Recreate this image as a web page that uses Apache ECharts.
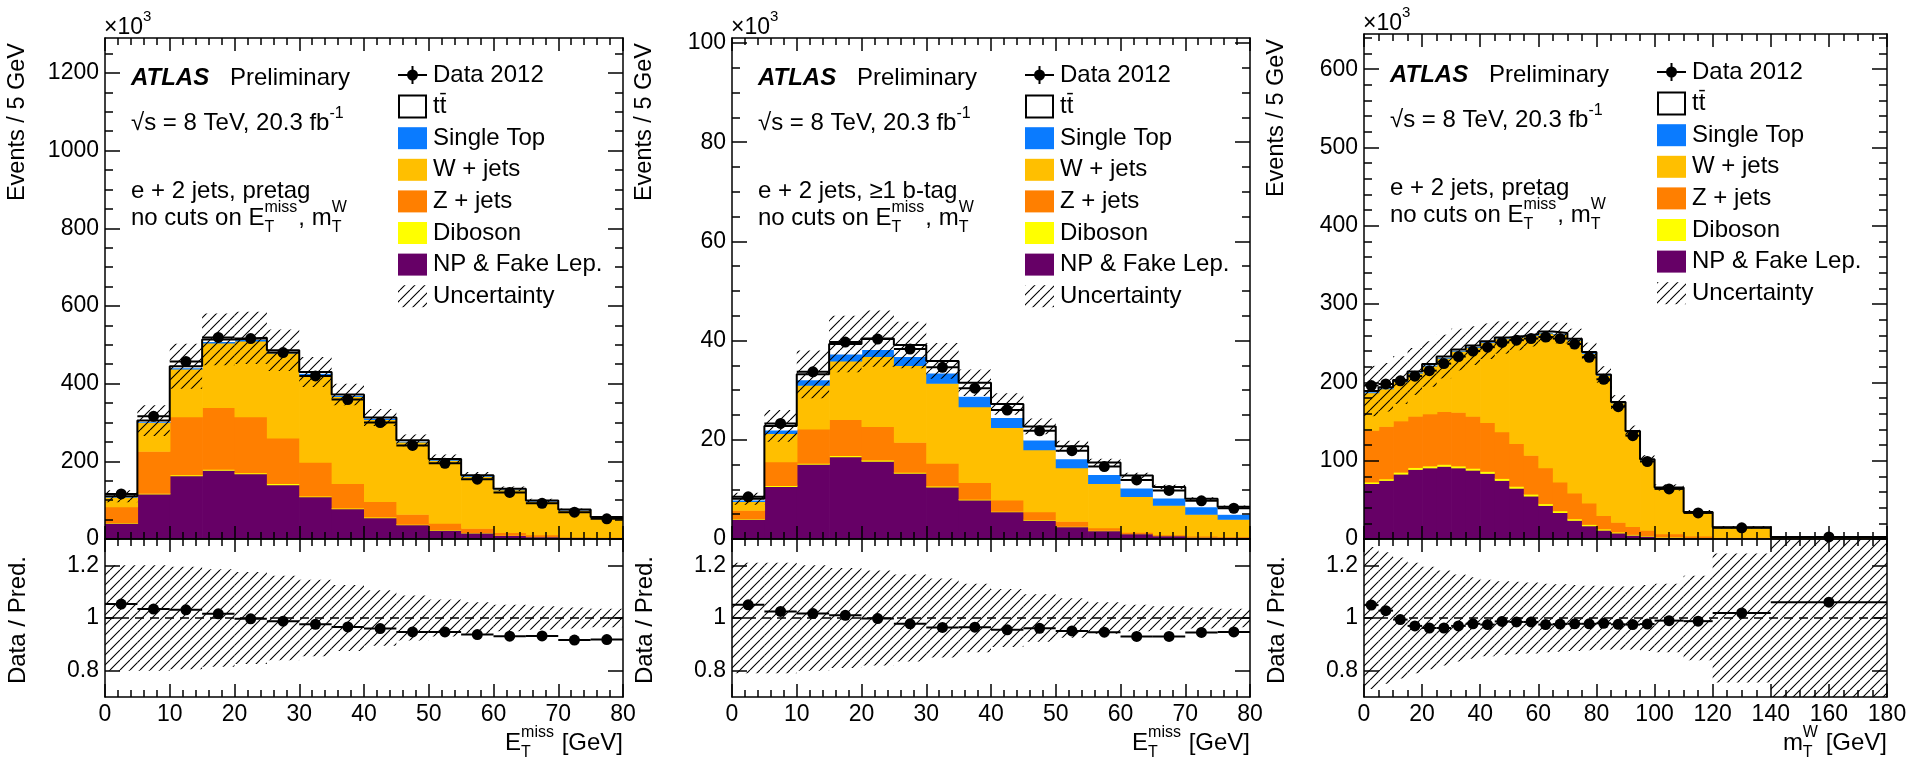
<!DOCTYPE html>
<html>
<head>
<meta charset="utf-8">
<script src="https://cdn.jsdelivr.net/npm/echarts@6.0.0/dist/echarts.min.js"></script>
<style>
html,body{margin:0;padding:0;background:#fff;}
#chart{width:1915px;height:764px;}
</style>
</head>
<body>
<div id="chart"></div>
<script>
// ================= DATA =================
// bin edges (GeV)
const etEdges = [0,5,10,15,20,25,30,35,40,45,50,55,60,65,70,75,80];
const mtEdges = [0,5,10,15,20,25,30,35,40,45,50,55,60,65,70,75,80,85,90,95,100,110,120,140,180];

// tick labels
const p1YTicks = [0,200,400,600,800,1000,1200];
const p2YTicks = [0,20,40,60,80,100];
const p3YTicks = [0,100,200,300,400,500,600];
const etXTicks = [0,10,20,30,40,50,60,70,80];
const mtXTicks = [0,20,40,60,80,100,120,140,160,180];
const ratioYTicks = [0.8,1,1.2];

// Panel 1: e + 2 jets, pretag, ETmiss (x10^3 events)
const p1NP   = [41,116,163,177,168,140,109,78,55,37,23,16,9,6,5,3];
const p1Dib  = [1,2,3,3,3,3,2,2,2,1.5,1,1,0.8,0.5,0.4,0.3];
const p1Z    = [41,108,149,159,144,117,87,63,40,25.5,17,11,7.2,4.5,1.6,1.7];
const p1W    = [25,74,123,166,195,219,226,224,211,186,162,133,110,86,67,50];
const p1ST   = [1,2,3,4,4,4,3,3,3,2,2,2,1.5,1,1,1];
const p1TT   = [1,3,4,5,4,3,3,2,2,2,1,1,1,1,0.8,0.6];
const p1Data = [116,316,457,519,516,480,420,359,300,241,195,154,120,92,69,52];
const p1UncMain  = [0.14,0.13,0.13,0.13,0.13,0.11,0.09,0.075,0.07,0.06,0.055,0.05,0.045,0.045,0.04,0.04];
const p1Ratio    = [1.053,1.034,1.031,1.016,0.997,0.988,0.976,0.966,0.960,0.947,0.947,0.937,0.931,0.932,0.916,0.918];
const p1UncRatio = [0.20,0.20,0.195,0.185,0.175,0.16,0.145,0.125,0.105,0.085,0.07,0.06,0.05,0.045,0.04,0.035];

// Panel 2: e + 2 jets, >=1 b-tag, ETmiss
const p2NP   = [4.0,10.6,15.1,16.6,15.7,13.3,10.5,7.9,5.5,3.8,2.5,1.7,1.1,0.7,0.4,0.35];
const p2Dib  = [0.1,0.2,0.2,0.25,0.25,0.2,0.2,0.15,0.12,0.1,0.08,0.06,0.05,0.04,0.03,0.02];
const p2Z    = [1.7,4.8,6.9,7.25,6.75,6.0,4.6,3.35,2.28,1.6,1.02,0.54,0.25,0.16,0.17,0.13];
const p2W    = [1.8,5.7,8.8,11.8,14.1,15.5,16.1,15.3,14.6,12.5,10.8,8.9,7.2,5.9,4.4,3.5];
const p2ST   = [0.3,0.7,1.1,1.4,1.4,1.8,2.1,2.1,2.0,2.0,1.8,1.8,1.7,1.5,1.5,1.0];
const p2TT   = [0.2,0.8,1.1,2.0,2.2,2.3,2.4,2.7,2.7,2.7,2.5,2.4,2.5,2.2,1.6,1.5];
const p2Data = [8.5,23.3,33.7,39.7,40.3,38.3,34.6,30.4,26.0,21.8,17.8,14.6,11.9,9.8,7.7,6.2];
const p2UncMain  = [0.15,0.14,0.145,0.145,0.14,0.12,0.10,0.085,0.08,0.07,0.06,0.05,0.045,0.04,0.04,0.04];
const p2Ratio    = [1.05,1.025,1.017,1.01,0.998,0.978,0.964,0.965,0.955,0.961,0.951,0.946,0.93,0.93,0.945,0.947];
const p2UncRatio = [0.21,0.21,0.20,0.19,0.18,0.165,0.15,0.13,0.11,0.09,0.075,0.06,0.05,0.045,0.04,0.035];

// Panel 3: e + 2 jets, pretag, mT(W)
const p3NP   = [71,75,83,89,91,93,91,88,84,75,65,55,43,34,24,17,11.4,7.8,5,3.7,2.3,1.4,0.9,0.3];
const p3Dib  = [2,2,2.5,2.5,2.5,2.5,2.5,2.5,2.5,2.5,2.5,2.5,2.3,2.2,2,1.8,1.6,1.3,1,0.8,0.5,0.3,0.15,0.05];
const p3Z    = [66,67,65.5,65.5,66.5,67.5,68.5,66.5,62.5,59.5,54.5,49.5,45.7,36.8,33,27.2,17,12.4,10,6.9,4,2.3,1.25,0.25];
const p3W    = [48,48,50,55,61,68,78,88,102,119,136,153,172,188.6,195,191,179,152.5,121,89.6,58.2,30,12.3,1.7];
const p3ST   = [1.2,1.2,1.2,1.2,1.3,1.2,1.2,1.2,1.0,0.9,0.9,0.9,1.0,0.8,1.0,1.0,0.8,0.6,0.6,0.5,0.4,0.3,0.2,0.1];
const p3TT   = [0.8,0.6,0.8,0.8,1.2,0.8,0.8,0.8,0.6,0.4,0.4,0.7,0.9,0.7,0.8,0.8,0.4,0.4,0.4,0.5,0.4,0.3,0.2,0.1];
const p3Data = [196,198,202,208,215,224,233,240,245,251,254,256,258,256,249,232,204,169,132,99,64,33.3,14.3,2.7];
const p3UncMain  = [0.17,0.16,0.15,0.14,0.13,0.12,0.11,0.10,0.09,0.08,0.07,0.06,0.05,0.05,0.05,0.05,0.05,0.05,0.05,0.05,0.06,0.07,0.1,0.5];
const p3Ratio    = [1.049,1.028,0.994,0.97,0.962,0.962,0.97,0.978,0.975,0.987,0.985,0.985,0.975,0.977,0.978,0.978,0.98,0.976,0.975,0.977,0.99,0.988,1.019,1.06];
const p3UncRatio = [0.27,0.25,0.23,0.21,0.195,0.18,0.165,0.155,0.145,0.14,0.138,0.135,0.13,0.128,0.125,0.122,0.12,0.12,0.12,0.125,0.13,0.16,0.245,0.6];

const legendNames = ['Single Top','W + jets','Z + jets','Diboson','NP & Fake Lep.'];

// ================= STYLE / LAYOUT =================
const FONT = '"Liberation Sans", Arial, Helvetica, sans-serif';
const COLORS = {np:'#660066', dib:'#ffff00', z:'#ff7f00', w:'#ffbf00', st:'#0a7bff', tt:'#ffffff'};
const compColors = [COLORS.np, COLORS.dib, COLORS.z, COLORS.w, COLORS.st, COLORS.tt];
const legendColors = [COLORS.st, COLORS.w, COLORS.z, COLORS.dib, COLORS.np];
const MAIN_B = 539, RAT_B = 697;

const panels = [
  {L:105, R:623, T:38, ty:38, edges:etEdges, xMax:80, xTicks:etXTicks, xMinorStep:2, yMax:1290, yTicks:p1YTicks, yMinorStep:50,
   comps:[p1NP,p1Dib,p1Z,p1W,p1ST,p1TT], data:p1Data, uncMain:p1UncMain, ratio:p1Ratio, unc:p1UncRatio,
   sel:'e + 2 jets, pretag', xTitle:['E',{sup:'miss',sub:'T'},' [GeV]']},
  {L:732, R:1250, T:38, ty:38, edges:etEdges, xMax:80, xTicks:etXTicks, xMinorStep:2, yMax:101, yTicks:p2YTicks, yMinorStep:5,
   comps:[p2NP,p2Dib,p2Z,p2W,p2ST,p2TT], data:p2Data, uncMain:p2UncMain, ratio:p2Ratio, unc:p2UncRatio,
   sel:'e + 2 jets, \u22651 b-tag', xTitle:['E',{sup:'miss',sub:'T'},' [GeV]']},
  {L:1364, R:1887, T:34, ty:35, edges:mtEdges, xMax:180, xTicks:mtXTicks, xMinorStep:5, yMax:645, yTicks:p3YTicks, yMinorStep:20,
   comps:[p3NP,p3Dib,p3Z,p3W,p3ST,p3TT], data:p3Data, uncMain:p3UncMain, ratio:p3Ratio, unc:p3UncRatio,
   sel:'e + 2 jets, pretag', xTitle:['m',{sup:'W',sub:'T'},' [GeV]']}
];

// ================= HELPERS =================
function range(a, b, step){ const r=[]; for(let v=a; v<=b+1e-9; v+=step) r.push(+v.toFixed(6)); return r; }
function minors(a, b, step, majors){ return range(a,b,step).filter(v=>!majors.some(m=>Math.abs(m-v)<1e-6)); }

const mctx = document.createElement('canvas').getContext('2d');
function mw(t, size, pre){ mctx.font = (pre||'') + ' ' + size + 'px ' + FONT; return mctx.measureText(t).width; }

function makeHatch(){
  const s=10, c=document.createElement('canvas'); c.width=s; c.height=s;
  const g=c.getContext('2d'); g.strokeStyle='#000'; g.lineWidth=1.1;
  g.beginPath();
  [-s,0,s].forEach(o=>{ g.moveTo(o,s); g.lineTo(o+s,0); });
  g.stroke();
  return c;
}
const HATCH = {image: makeHatch(), repeat:'repeat'};

const option = {
  animation:false, backgroundColor:'#fff', textStyle:{fontFamily:FONT},
  grid:[], xAxis:[], yAxis:[], series:[], graphic:{elements:[]}
};
const G = option.graphic.elements;

function txt(x, y, text, size, o){
  o = o || {};
  const al = o.align||'left', va = o.va||'middle';
  return {type:'text', x:x, y:y, rotation:o.rot||0, z:100, silent:true,
    style:{text:text, fill:'#000', font:(o.pre||'')+' '+size+'px '+FONT, align:al, textAlign:al, verticalAlign:va, textVerticalAlign:va}};
}
function richParts(x, y, parts, size, align){
  const ss = Math.round(size*0.66);
  const widths = parts.map(p => typeof p==='string' ? mw(p,size) :
      Math.max(p.sup?mw(p.sup,ss):0, p.sub?mw(p.sub,ss):0) + 1);
  const total = widths.reduce((a,b)=>a+b,0);
  let cx = align==='right' ? x-total : x;
  const els=[];
  parts.forEach((p,i)=>{
    if (typeof p==='string') els.push(txt(cx,y,p,size));
    else {
      if (p.sup) els.push(txt(cx, y+(p.supDy||-10), p.sup, ss));
      if (p.sub) els.push(txt(cx, y+10, p.sub, ss));
    }
    cx += widths[i];
  });
  return els;
}

function addAxisSet(gi, xr, xMaj, xMin, yr, yMaj, yMin, cfg){
  const xi = option.xAxis.length, yi = option.yAxis.length;
  const tickStyle = {color:'#000', width:1.5};
  const base = (mn,mx)=>({gridIndex:gi, type:'value', min:mn, max:mx, splitLine:{show:false}, z:10, silent:true});
  const lab = (show, vals, margin)=>({show:show, customValues:vals, fontSize:23, fontFamily:FONT, color:'#000', margin:margin,
                                      formatter:v=>String(v)});
  ['bottom','top'].forEach(pos=>{
    option.xAxis.push(Object.assign(base(xr[0],xr[1]), {position:pos,
      axisLine:{show:true, onZero:false, lineStyle:{color:'#000', width:1.5}},
      axisTick:{show:true, inside:true, length:cfg.xMajLen, customValues:xMaj, lineStyle:tickStyle},
      axisLabel:lab(pos==='bottom' && cfg.xLabels, xMaj, 6)}));
    option.xAxis.push(Object.assign(base(xr[0],xr[1]), {position:pos,
      axisLine:{show:false, onZero:false},
      axisTick:{show:xMin.length>0, inside:true, length:cfg.xMinLen, customValues:xMin, lineStyle:tickStyle},
      axisLabel:{show:false}}));
  });
  ['left','right'].forEach(pos=>{
    option.yAxis.push(Object.assign(base(yr[0],yr[1]), {position:pos,
      axisLine:{show:true, onZero:false, lineStyle:{color:'#000', width:1.5}},
      axisTick:{show:true, inside:true, length:cfg.yMajLen, customValues:yMaj, lineStyle:tickStyle},
      axisLabel:lab(pos==='left', yMaj, 6)}));
    option.yAxis.push(Object.assign(base(yr[0],yr[1]), {position:pos,
      axisLine:{show:false, onZero:false},
      axisTick:{show:yMin.length>0, inside:true, length:cfg.yMinLen, customValues:yMin, lineStyle:tickStyle},
      axisLabel:{show:false}}));
  });
  return [xi, yi];
}

function rectSeries(xi, yi, rows, fill, z, seam){
  return {type:'custom', xAxisIndex:xi, yAxisIndex:yi, z:z, silent:true, data:rows,
    renderItem:function(params, api){
      const a = api.coord([api.value(0), api.value(3)]);
      const b = api.coord([api.value(1), api.value(2)]);
      let shape = {x:a[0], y:a[1], width:b[0]-a[0]+(seam?0.7:0), height:b[1]-a[1]+(seam?0.6:0)};
      const cs = params.coordSys;
      shape = echarts.graphic.clipRectByRect(shape, {x:cs.x, y:cs.y, width:cs.width, height:cs.height});
      if (!shape) return null;
      return {type:'rect', shape:shape, style:{fill:fill}};
    }};
}
function dataSeries(xi, yi, rows, z){
  return {type:'custom', xAxisIndex:xi, yAxisIndex:yi, z:z, silent:true, data:rows,
    renderItem:function(params, api){
      const y = api.value(2);
      const p0 = api.coord([api.value(0), y]);
      const p1 = api.coord([api.value(1), y]);
      const pc = api.coord([(api.value(0)+api.value(1))/2, y]);
      return {type:'group', children:[
        {type:'line', shape:{x1:p0[0], y1:p0[1], x2:p1[0], y2:p1[1]}, style:{stroke:'#000', lineWidth:2}},
        {type:'circle', shape:{cx:pc[0], cy:pc[1], r:5.5}, style:{fill:'#000'}}
      ]};
    }};
}

// ================= BUILD =================
panels.forEach((P, i)=>{
  const W = P.R - P.L;
  option.grid.push({left:P.L, top:P.T, width:W, height:MAIN_B-P.T, show:false, containLabel:false, outerBoundsMode:'none'});
  option.grid.push({left:P.L, top:MAIN_B, width:W, height:RAT_B-MAIN_B, show:false, containLabel:false, outerBoundsMode:'none'});
  const xMinor = minors(0, P.xMax, P.xMinorStep, P.xTicks);
  const yMinor = minors(0, P.yMax, P.yMinorStep, P.yTicks);
  const [mx, my] = addAxisSet(2*i, [0,P.xMax], P.xTicks, xMinor, [0,P.yMax], P.yTicks, yMinor,
      {xLabels:false, xMajLen:13, xMinLen:7, yMajLen:15, yMinLen:8});
  const [rx, ry] = addAxisSet(2*i+1, [0,P.xMax], P.xTicks, xMinor, [0.7,1.3], ratioYTicks, [],
      {xLabels:true, xMajLen:13, xMinLen:7, yMajLen:15, yMinLen:8});

  const e = P.edges, n = e.length-1;
  const cum = new Array(n).fill(0);
  P.comps.forEach((arr, c)=>{
    const rows = arr.map((v,b)=>{ const lo=cum[b]; cum[b]+=v; return [e[b], e[b+1], lo, cum[b]]; });
    option.series.push(rectSeries(mx, my, rows, compColors[c], 2, true));
  });
  const tot = cum.slice();
  // outline of the total (ttbar line)
  const outline = e.slice(0,n).map((x,b)=>[x, tot[b]]).concat([[e[n], tot[n-1]]]);
  option.series.push({type:'line', xAxisIndex:mx, yAxisIndex:my, z:3, silent:true, step:'end', symbol:'none',
    data:outline, lineStyle:{color:'#000', width:2}});
  // uncertainty hatch
  option.series.push(rectSeries(mx, my, tot.map((t,b)=>[e[b], e[b+1], t*(1-P.uncMain[b]), t*(1+P.uncMain[b])]), HATCH, 4, false));
  // data
  option.series.push(dataSeries(mx, my, P.data.map((d,b)=>[e[b], e[b+1], d]), 6));

  // ratio panel
  option.series.push(rectSeries(rx, ry, P.unc.map((u,b)=>[e[b], e[b+1], 1-u, 1+u]), HATCH, 3, false));
  option.series.push({type:'line', xAxisIndex:rx, yAxisIndex:ry, z:4, silent:true, symbol:'none',
    data:[[0,1],[P.xMax,1]], lineStyle:{color:'#000', width:1.5, type:[9,6]}});
  option.series.push(dataSeries(rx, ry, P.ratio.map((r,b)=>[e[b], e[b+1], r]), 6));

  // ---------- text & legend ----------
  const L=P.L, ty=P.ty;
  G.push(...richParts(L-1, P.T-10, ['\u00d710', {sup:'3', supDy:-11}], 23));
  G.push(txt(L-87, P.T+5, 'Events / 5 GeV', 23.5, {rot:Math.PI/2, align:'right'}));
  G.push(txt(L-87, 556, 'Data / Pred.', 24, {rot:Math.PI/2, align:'right'}));
  G.push(...richParts(P.R, 743, P.xTitle, 24, 'right'));

  G.push(txt(L+26, ty+40, 'ATLAS', 24, {pre:'italic bold'}));
  G.push(txt(L+125, ty+40, 'Preliminary', 24));
  G.push(...richParts(L+26, ty+85, ['\u221as = 8 TeV, 20.3 fb', {sup:'-1', supDy:-9}], 24));
  G.push(txt(L+26, ty+153, P.sel, 24));
  G.push(...richParts(L+26, ty+180, ['no cuts on E', {sup:'miss', sub:'T'}, ', m', {sup:'W', sub:'T'}], 24));

  const bx=L+293, tx=L+328, bw=29, bh=22;
  const rowY = k => ty + 37 + k*31.6;
  let y = rowY(0);
  G.push({type:'line', z:100, silent:true, shape:{x1:bx, y1:y, x2:bx+bw, y2:y}, style:{stroke:'#000', lineWidth:2}});
  G.push({type:'line', z:100, silent:true, shape:{x1:bx+bw/2, y1:y-9, x2:bx+bw/2, y2:y+9}, style:{stroke:'#000', lineWidth:2}});
  G.push({type:'circle', z:100, silent:true, shape:{cx:bx+bw/2, cy:y, r:5.5}, style:{fill:'#000'}});
  G.push(txt(tx, y, 'Data 2012', 24));
  y = rowY(1);
  G.push({type:'rect', z:100, silent:true, shape:{x:bx+1, y:y-bh/2, width:bw-2, height:bh}, style:{fill:'#fff', stroke:'#000', lineWidth:2}});
  G.push(txt(tx, y, 'tt', 24));
  const t1 = mw('t',24), t2 = mw('tt',24);
  G.push({type:'line', z:100, silent:true, shape:{x1:tx+t1+0.5, y1:y-13, x2:tx+t2-0.5, y2:y-13}, style:{stroke:'#000', lineWidth:1.5}});
  legendNames.forEach((nm,k)=>{
    const yy = rowY(k+2);
    G.push({type:'rect', z:100, silent:true, shape:{x:bx, y:yy-bh/2, width:bw, height:bh}, style:{fill:legendColors[k]}});
    G.push(txt(tx, yy, nm, 24));
  });
  y = rowY(7);
  G.push({type:'rect', z:100, silent:true, shape:{x:bx, y:y-bh/2, width:bw, height:bh}, style:{fill:HATCH}});
  G.push(txt(tx, y, 'Uncertainty', 24));
});

const chart = echarts.init(document.getElementById('chart'), null, {renderer:'canvas'});
chart.setOption(option);
</script>
</body>
</html>
